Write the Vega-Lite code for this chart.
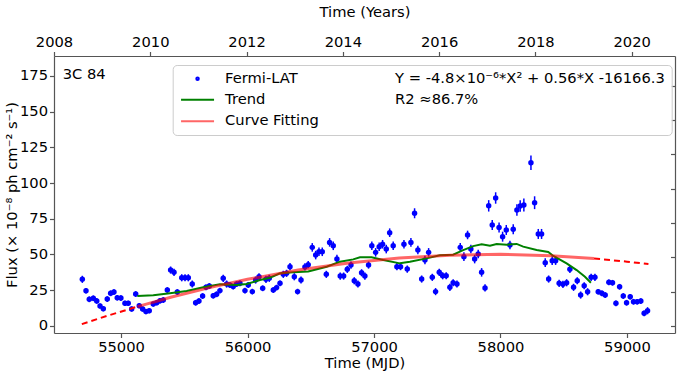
{
  "$schema": "https://vega.github.io/schema/vega-lite/v6.json",
  "width": 621,
  "height": 277,
  "autosize": {"type": "none"},
  "padding": {"left": 54, "top": 56, "right": 6, "bottom": 38},
  "background": "white",
  "config": {
    "view": {"stroke": null},
    "font": "DejaVu Sans",
    "axis": {
      "labelFont": "DejaVu Sans", "titleFont": "DejaVu Sans",
      "labelFontSize": 14.7, "titleFontSize": 14.7, "titleFontWeight": "normal",
      "labelColor": "black", "titleColor": "black",
      "domainColor": "#555555", "tickColor": "#555555", "domainWidth": 1.2, "tickWidth": 1.2,
      "grid": false, "tickSize": 4.5, "labelPadding": 2, "labelOverlap": false, "labelFlush": false
    },
    "legend": {
      "labelFont": "DejaVu Sans", "labelFontSize": 14.7, "labelColor": "black",
      "labelLimit": 500, "symbolSize": 100, "symbolStrokeWidth": 2, "symbolOpacity": 1
    }
  },
  "datasets": {
    "flux": [
      {"mjd": 54694, "flux": 32.5, "err": 2.5}, {"mjd": 54723, "flux": 24.5, "err": 2}, {"mjd": 54749, "flux": 18.5, "err": 2},
      {"mjd": 54781, "flux": 19.2, "err": 2}, {"mjd": 54808, "flux": 17.4, "err": 2}, {"mjd": 54834, "flux": 13.8, "err": 1.8},
      {"mjd": 54860, "flux": 11.9, "err": 1.8}, {"mjd": 54891, "flux": 18.7, "err": 2}, {"mjd": 54918, "flux": 22.7, "err": 2},
      {"mjd": 54944, "flux": 23.6, "err": 2}, {"mjd": 54970, "flux": 19.6, "err": 2}, {"mjd": 54999, "flux": 19.4, "err": 2},
      {"mjd": 55031, "flux": 15.7, "err": 1.8}, {"mjd": 55057, "flux": 15.7, "err": 1.8}, {"mjd": 55084, "flux": 11.7, "err": 1.8},
      {"mjd": 55116, "flux": 22.2, "err": 2}, {"mjd": 55144, "flux": 14.0, "err": 1.8}, {"mjd": 55171, "flux": 11.7, "err": 1.8},
      {"mjd": 55197, "flux": 9.9, "err": 1.8}, {"mjd": 55223, "flux": 10.5, "err": 1.8}, {"mjd": 55255, "flux": 15.2, "err": 1.8},
      {"mjd": 55282, "flux": 16.1, "err": 1.8}, {"mjd": 55308, "flux": 17.5, "err": 2}, {"mjd": 55334, "flux": 18.0, "err": 2},
      {"mjd": 55366, "flux": 25.0, "err": 2}, {"mjd": 55392, "flux": 39.0, "err": 2.5}, {"mjd": 55419, "flux": 37.4, "err": 2.5},
      {"mjd": 55445, "flux": 23.6, "err": 2}, {"mjd": 55480, "flux": 33.6, "err": 2.5}, {"mjd": 55506, "flux": 33.6, "err": 2.5},
      {"mjd": 55532, "flux": 33.6, "err": 2.5}, {"mjd": 55563, "flux": 29.2, "err": 2.5}, {"mjd": 55590, "flux": 16.1, "err": 2},
      {"mjd": 55616, "flux": 17.3, "err": 2}, {"mjd": 55645, "flux": 20.8, "err": 2}, {"mjd": 55672, "flux": 26.9, "err": 2},
      {"mjd": 55698, "flux": 27.8, "err": 2}, {"mjd": 55729, "flux": 21.0, "err": 2}, {"mjd": 55756, "flux": 22.0, "err": 2},
      {"mjd": 55782, "flux": 24.6, "err": 2}, {"mjd": 55808, "flux": 33.2, "err": 2.5}, {"mjd": 55835, "flux": 29.2, "err": 2.5},
      {"mjd": 55861, "flux": 28.5, "err": 2}, {"mjd": 55887, "flux": 27.4, "err": 2}, {"mjd": 55914, "flux": 29.2, "err": 2},
      {"mjd": 55940, "flux": 29.7, "err": 2}, {"mjd": 55980, "flux": 24.6, "err": 2}, {"mjd": 56006, "flux": 28.5, "err": 2},
      {"mjd": 56038, "flux": 23.9, "err": 2}, {"mjd": 56064, "flux": 32.0, "err": 2.5}, {"mjd": 56091, "flux": 34.3, "err": 2.5},
      {"mjd": 56120, "flux": 26.2, "err": 2}, {"mjd": 56146, "flux": 32.5, "err": 2.5}, {"mjd": 56172, "flux": 33.2, "err": 2.5},
      {"mjd": 56204, "flux": 25.0, "err": 2}, {"mjd": 56230, "flux": 26.7, "err": 2}, {"mjd": 56257, "flux": 29.7, "err": 2},
      {"mjd": 56283, "flux": 36.0, "err": 2.5}, {"mjd": 56309, "flux": 36.7, "err": 2.5}, {"mjd": 56336, "flux": 41.4, "err": 2.5},
      {"mjd": 56370, "flux": 34.3, "err": 2.5}, {"mjd": 56396, "flux": 23.9, "err": 2}, {"mjd": 56423, "flux": 32.0, "err": 2.5},
      {"mjd": 56454, "flux": 41.2, "err": 2.5}, {"mjd": 56480, "flux": 42.8, "err": 2.5}, {"mjd": 56512, "flux": 54.9, "err": 3},
      {"mjd": 56539, "flux": 49.5, "err": 3}, {"mjd": 56565, "flux": 51.8, "err": 3}, {"mjd": 56591, "flux": 51.8, "err": 3},
      {"mjd": 56623, "flux": 36.0, "err": 2.5}, {"mjd": 56649, "flux": 58.4, "err": 3}, {"mjd": 56678, "flux": 56.0, "err": 3},
      {"mjd": 56707, "flux": 46.7, "err": 3}, {"mjd": 56733, "flux": 34.8, "err": 2.5}, {"mjd": 56760, "flux": 34.8, "err": 2.5},
      {"mjd": 56789, "flux": 39.5, "err": 2.5}, {"mjd": 56818, "flux": 42.5, "err": 2.5}, {"mjd": 56844, "flux": 31.5, "err": 2.5},
      {"mjd": 56873, "flux": 29.2, "err": 2.5}, {"mjd": 56902, "flux": 37.1, "err": 2.5}, {"mjd": 56928, "flux": 34.8, "err": 2.5},
      {"mjd": 56957, "flux": 42.5, "err": 2.5}, {"mjd": 56983, "flux": 56.0, "err": 3}, {"mjd": 57013, "flux": 51.4, "err": 3},
      {"mjd": 57041, "flux": 55.3, "err": 3}, {"mjd": 57068, "flux": 57.1, "err": 3}, {"mjd": 57097, "flux": 53.7, "err": 3},
      {"mjd": 57124, "flux": 65.2, "err": 3}, {"mjd": 57152, "flux": 56.0, "err": 3}, {"mjd": 57181, "flux": 41.4, "err": 2.5},
      {"mjd": 57210, "flux": 41.4, "err": 2.5}, {"mjd": 57237, "flux": 57.1, "err": 3}, {"mjd": 57263, "flux": 39.7, "err": 2.5},
      {"mjd": 57292, "flux": 58.4, "err": 3}, {"mjd": 57321, "flux": 78.8, "err": 3.5}, {"mjd": 57347, "flux": 53.0, "err": 3},
      {"mjd": 57377, "flux": 32.7, "err": 2.5}, {"mjd": 57403, "flux": 46.1, "err": 3}, {"mjd": 57432, "flux": 51.4, "err": 3},
      {"mjd": 57461, "flux": 33.9, "err": 2.5}, {"mjd": 57487, "flux": 23.9, "err": 2.5}, {"mjd": 57516, "flux": 37.4, "err": 2.5},
      {"mjd": 57543, "flux": 35.0, "err": 2.5}, {"mjd": 57571, "flux": 35.0, "err": 2.5}, {"mjd": 57600, "flux": 26.9, "err": 2.5},
      {"mjd": 57626, "flux": 30.1, "err": 2.5}, {"mjd": 57656, "flux": 29.2, "err": 2.5}, {"mjd": 57682, "flux": 54.9, "err": 3},
      {"mjd": 57711, "flux": 48.4, "err": 3}, {"mjd": 57740, "flux": 63.6, "err": 3}, {"mjd": 57766, "flux": 53.7, "err": 3},
      {"mjd": 57796, "flux": 46.7, "err": 3}, {"mjd": 57824, "flux": 50.2, "err": 3}, {"mjd": 57851, "flux": 37.4, "err": 3},
      {"mjd": 57878, "flux": 26.5, "err": 2.5}, {"mjd": 57907, "flux": 84.0, "err": 4}, {"mjd": 57935, "flux": 70.5, "err": 3.5},
      {"mjd": 57962, "flux": 89.5, "err": 4}, {"mjd": 57989, "flux": 68.9, "err": 3.5}, {"mjd": 58017, "flux": 62.4, "err": 3.5},
      {"mjd": 58046, "flux": 67.1, "err": 3.5}, {"mjd": 58075, "flux": 56.6, "err": 3}, {"mjd": 58101, "flux": 67.6, "err": 3.5},
      {"mjd": 58130, "flux": 81.1, "err": 4}, {"mjd": 58156, "flux": 83.9, "err": 4}, {"mjd": 58185, "flux": 84.6, "err": 4.5},
      {"mjd": 58241, "flux": 114.2, "err": 5}, {"mjd": 58270, "flux": 86.2, "err": 4.5}, {"mjd": 58299, "flux": 64.3, "err": 3.5},
      {"mjd": 58325, "flux": 64.3, "err": 3.5}, {"mjd": 58354, "flux": 44.2, "err": 3}, {"mjd": 58381, "flux": 32.7, "err": 2.5},
      {"mjd": 58409, "flux": 45.6, "err": 3}, {"mjd": 58436, "flux": 45.6, "err": 3}, {"mjd": 58464, "flux": 29.7, "err": 2.5},
      {"mjd": 58494, "flux": 29.0, "err": 2.5}, {"mjd": 58523, "flux": 30.1, "err": 2.5}, {"mjd": 58549, "flux": 39.5, "err": 2.5},
      {"mjd": 58578, "flux": 26.9, "err": 2.5}, {"mjd": 58607, "flux": 31.5, "err": 2.5}, {"mjd": 58634, "flux": 21.5, "err": 2.5},
      {"mjd": 58662, "flux": 28.0, "err": 2.5}, {"mjd": 58689, "flux": 23.8, "err": 2.5}, {"mjd": 58717, "flux": 33.9, "err": 2.5},
      {"mjd": 58747, "flux": 33.9, "err": 2.5}, {"mjd": 58773, "flux": 23.8, "err": 2}, {"mjd": 58802, "flux": 22.7, "err": 2},
      {"mjd": 58828, "flux": 21.5, "err": 2}, {"mjd": 58857, "flux": 30.4, "err": 2}, {"mjd": 58886, "flux": 30.1, "err": 2},
      {"mjd": 58913, "flux": 15.7, "err": 2}, {"mjd": 58942, "flux": 27.3, "err": 2}, {"mjd": 58971, "flux": 20.8, "err": 2},
      {"mjd": 58997, "flux": 16.1, "err": 2}, {"mjd": 59026, "flux": 20.3, "err": 2}, {"mjd": 59052, "flux": 16.8, "err": 2},
      {"mjd": 59081, "flux": 16.8, "err": 2}, {"mjd": 59110, "flux": 17.3, "err": 2}, {"mjd": 59136, "flux": 8.7, "err": 2},
      {"mjd": 59163, "flux": 10.5, "err": 2.5}
    ],
    "trend": [
      {"mjd": 55129, "flux": 20.8}, {"mjd": 55255, "flux": 21.3}, {"mjd": 55387, "flux": 22.7}, {"mjd": 55519, "flux": 24.3},
      {"mjd": 55650, "flux": 26.9}, {"mjd": 55782, "flux": 29.0}, {"mjd": 55914, "flux": 28.5}, {"mjd": 55993, "flux": 29.2},
      {"mjd": 56098, "flux": 32.0}, {"mjd": 56177, "flux": 33.6}, {"mjd": 56257, "flux": 36.7}, {"mjd": 56362, "flux": 37.4},
      {"mjd": 56480, "flux": 38.0}, {"mjd": 56626, "flux": 41.3}, {"mjd": 56731, "flux": 44.9}, {"mjd": 56836, "flux": 46.5},
      {"mjd": 56889, "flux": 47.9}, {"mjd": 56981, "flux": 47.9}, {"mjd": 57073, "flux": 46.0}, {"mjd": 57205, "flux": 43.7},
      {"mjd": 57284, "flux": 44.8}, {"mjd": 57416, "flux": 47.2}, {"mjd": 57521, "flux": 49.3}, {"mjd": 57626, "flux": 49.8},
      {"mjd": 57705, "flux": 53.0}, {"mjd": 57784, "flux": 55.8}, {"mjd": 57851, "flux": 57.0}, {"mjd": 57917, "flux": 56.0},
      {"mjd": 57970, "flux": 57.3}, {"mjd": 58049, "flux": 56.8}, {"mjd": 58128, "flux": 57.3}, {"mjd": 58180, "flux": 55.4},
      {"mjd": 58286, "flux": 53.0}, {"mjd": 58378, "flux": 51.7}, {"mjd": 58418, "flux": 48.9}, {"mjd": 58523, "flux": 43.7},
      {"mjd": 58602, "flux": 39.0}, {"mjd": 58668, "flux": 34.3}, {"mjd": 58715, "flux": 30.1}
    ],
    "fit": [
      {"mjd": 54690, "flux": 1.1, "seg": "pre"}, {"mjd": 54900, "flux": 7.2, "seg": "pre"}, {"mjd": 55130, "flux": 13.4, "seg": "pre"},
      {"mjd": 55130, "flux": 13.4, "seg": "mid"}, {"mjd": 55400, "flux": 20.1, "seg": "mid"}, {"mjd": 55700, "flux": 26.7, "seg": "mid"},
      {"mjd": 56000, "flux": 32.5, "seg": "mid"}, {"mjd": 56400, "flux": 39.0, "seg": "mid"}, {"mjd": 56800, "flux": 43.9, "seg": "mid"},
      {"mjd": 57200, "flux": 47.4, "seg": "mid"}, {"mjd": 57600, "flux": 49.4, "seg": "mid"}, {"mjd": 58000, "flux": 50.0, "seg": "mid"},
      {"mjd": 58400, "flux": 49.1, "seg": "mid"}, {"mjd": 58740, "flux": 47.1, "seg": "mid"},
      {"mjd": 58740, "flux": 47.1, "seg": "post"}, {"mjd": 59000, "flux": 44.9, "seg": "post"}, {"mjd": 59170, "flux": 43.2, "seg": "post"}
    ],
    "legend": [
      {"entry": "Fermi-LAT"},
      {"entry": "Trend"},
      {"entry": "Curve Fitting"},
      {"entry": "Y = -4.8×10⁻⁶*X² + 0.56*X -16166.3"},
      {"entry": "R2  ≈86.7%"}
    ]
  },
  "layer": [
    {
      "layer": [
        {
          "data": {"name": "flux"},
          "mark": {"type": "point", "filled": true, "color": "#0000ff", "opacity": 1, "size": 30},
          "encoding": {
            "x": {"field": "mjd", "type": "quantitative", "scale": {"domain": [54470, 59380], "nice": false, "zero": false},
                  "axis": {"orient": "bottom", "title": "Time (MJD)", "values": [55000, 56000, 57000, 58000, 59000], "format": "d", "titlePadding": 1, "labelOverlap": false}},
            "y": {"field": "flux", "type": "quantitative", "scale": {"domain": [-5.1, 189], "nice": false, "zero": false},
                  "axis": {"orient": "left", "title": "Flux (× 10⁻⁸ ph cm⁻² s⁻¹)", "values": [0, 25, 50, 75, 100, 125, 150, 175], "titlePadding": 0, "labelOverlap": false, "labelSeparation": 0, "tickCount": 8}}
          }
        },
        {
          "data": {"name": "flux"},
          "mark": {"type": "errorbar", "color": "#0000ff", "thickness": 1.5, "ticks": false},
          "encoding": {
            "x": {"field": "mjd", "type": "quantitative"},
            "y": {"field": "flux", "type": "quantitative", "title": "Flux (× 10⁻⁸ ph cm⁻² s⁻¹)"},
            "yError": {"field": "err"}
          }
        },
        {
          "data": {"name": "trend"},
          "mark": {"type": "line", "color": "#008000", "strokeWidth": 2},
          "encoding": {
            "x": {"field": "mjd", "type": "quantitative"},
            "y": {"field": "flux", "type": "quantitative"}
          }
        },
        {
          "data": {"name": "fit"},
          "transform": [{"filter": "datum.seg == 'mid'"}],
          "mark": {"type": "line", "color": "#ff0000", "opacity": 0.6, "strokeWidth": 3},
          "encoding": {
            "x": {"field": "mjd", "type": "quantitative"},
            "y": {"field": "flux", "type": "quantitative"}
          }
        },
        {
          "data": {"name": "fit"},
          "transform": [{"filter": "datum.seg != 'mid'"}],
          "mark": {"type": "line", "color": "#ff0000", "strokeWidth": 2, "strokeDash": [6, 4]},
          "encoding": {
            "x": {"field": "mjd", "type": "quantitative"},
            "y": {"field": "flux", "type": "quantitative"},
            "detail": {"field": "seg"}
          }
        },
        {
          "data": {"values": [{"label": "3C 84"}]},
          "mark": {"type": "text", "align": "left", "baseline": "middle", "fontSize": 14.7, "font": "DejaVu Sans", "color": "black"},
          "encoding": {
            "x": {"datum": 54539, "type": "quantitative"},
            "y": {"datum": 175.7, "type": "quantitative"},
            "text": {"field": "label"}
          }
        },
        {
          "data": {"name": "legend"},
          "mark": {"type": "point", "filled": false, "opacity": 0},
          "encoding": {
            "color": {"field": "entry", "type": "nominal",
              "scale": {"domain": ["Fermi-LAT", "Trend", "Curve Fitting", "Y = -4.8×10⁻⁶*X² + 0.56*X -16166.3", "R2  ≈86.7%"],
                        "range": ["#0000ff", "#008000", "#ff6666", "rgba(0,0,0,0)", "rgba(0,0,0,0)"]},
              "legend": {"title": null, "orient": "none", "legendX": 118.7, "legendY": 9, "columns": 2, "columnPadding": 27, "rowPadding": 5.5,
                         "padding": 6, "fillColor": "rgba(255,255,255,0.85)", "strokeColor": "#cccccc", "cornerRadius": 4, "labelOffset": 31.7}},
            "shape": {"field": "entry", "type": "nominal",
              "scale": {"domain": ["Fermi-LAT", "Trend", "Curve Fitting", "Y = -4.8×10⁻⁶*X² + 0.56*X -16166.3", "R2  ≈86.7%"],
                        "range": ["M2.05,0a0.25,0.25 0 1,0 0.5,0a0.25,0.25 0 1,0 -0.5,0", "M-1,0H5.6", "M-1,0H5.6", "M-1,0H5.6", "M-1,0H5.6"]},
              "legend": {"title": null, "orient": "none", "legendX": 118.7, "legendY": 9, "columns": 2, "columnPadding": 27, "rowPadding": 5.5,
                         "padding": 6, "fillColor": "rgba(255,255,255,0.85)", "strokeColor": "#cccccc", "cornerRadius": 4, "labelOffset": 31.7}}
          }
        }
      ]
    },
    {
      "data": {"values": [{"k": 1}]},
      "mark": {"type": "point", "opacity": 0},
      "encoding": {
        "x": {"datum": 2010, "type": "quantitative", "scale": {"domain": [2008, 2020.9], "nice": false, "zero": false},
              "axis": {"orient": "top", "title": "Time (Years)", "values": [2008, 2010, 2012, 2014, 2016, 2018, 2020], "format": "d", "titlePadding": 15}},
        "y": {"datum": 1, "type": "quantitative", "scale": {"domain": [-0.204, 7.87], "nice": false, "zero": false},
              "axis": {"orient": "right", "title": null, "values": [0, 1, 2, 3, 4, 5, 6, 7], "labels": false, "tickSize": -4.5}}
      }
    }
  ],
  "resolve": {"scale": {"x": "independent", "y": "independent"}}
}
